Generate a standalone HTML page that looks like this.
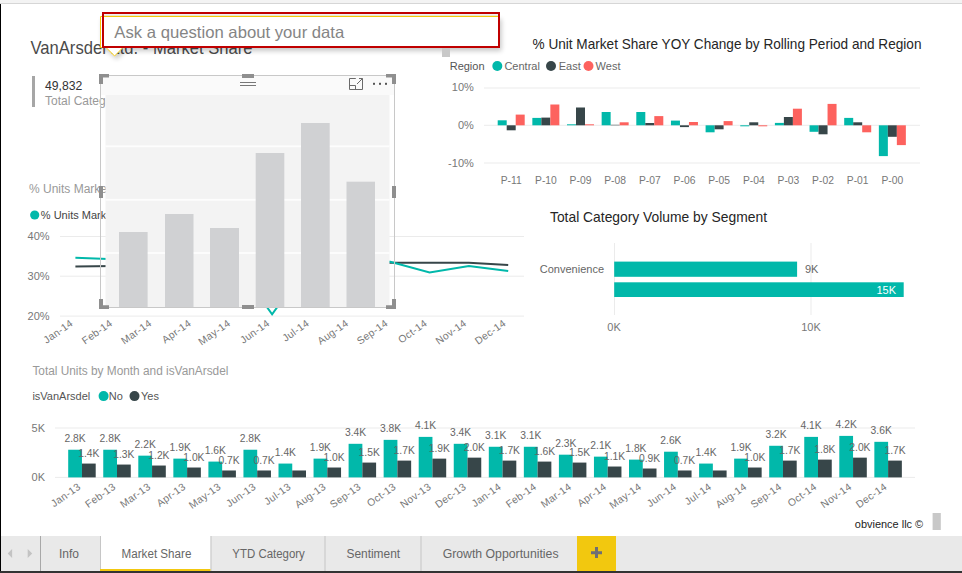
<!DOCTYPE html>
<html><head><meta charset="utf-8"><style>
html,body{margin:0;padding:0;width:962px;height:573px;overflow:hidden;background:#fff;font-family:"Liberation Sans",sans-serif}
</style></head><body>
<svg width="962" height="573" viewBox="0 0 962 573" style="position:absolute;left:0;top:0" font-family="Liberation Sans, sans-serif">
<defs><filter id="sh" x="-10%" y="-30%" width="120%" height="170%"><feGaussianBlur in="SourceAlpha" stdDeviation="2.5"/><feOffset dx="2" dy="3"/><feComponentTransfer><feFuncA type="linear" slope="0.22"/></feComponentTransfer><feMerge><feMergeNode/><feMergeNode in="SourceGraphic"/></feMerge></filter></defs>
<rect x="0" y="0" width="962" height="573" fill="#fff"/>
<rect x="0" y="0" width="962" height="3" fill="#f3f3f3"/>
<rect x="0" y="3" width="962" height="1" fill="#d6d6d6"/>
<rect x="0" y="4" width="1" height="569" fill="#000"/>
<text x="30.5" y="53.8" font-size="17.8" fill="#4a4a4a" text-anchor="start" textLength="222" lengthAdjust="spacingAndGlyphs" >VanArsdel Ltd. - Market Share</text>
<rect x="32" y="76" width="3" height="31" fill="#a6a6a6"/>
<text x="45" y="89.7" font-size="12" fill="#333" text-anchor="start" textLength="37.3" lengthAdjust="spacingAndGlyphs" >49,832</text>
<text x="45" y="104.6" font-size="12" fill="#999" text-anchor="start" >Total Category Volume</text>
<text x="29" y="193" font-size="12" fill="#999" text-anchor="start" >% Units Market Share by Month</text>
<circle cx="34.7" cy="215" r="4.6" fill="#01b8aa"/>
<text x="40.8" y="219.3" font-size="11" fill="#444" text-anchor="start" >% Units Market Share</text>
<text x="49.6" y="239.7" font-size="11" fill="#777" text-anchor="end" >40%</text>
<rect x="60" y="236.0" width="464" height="1" fill="#ebebeb"/>
<text x="49.6" y="279.9" font-size="11" fill="#777" text-anchor="end" >30%</text>
<rect x="60" y="275.7" width="464" height="1" fill="#ebebeb"/>
<text x="49.6" y="319.8" font-size="11" fill="#777" text-anchor="end" >20%</text>
<rect x="60" y="315.6" width="464" height="1" fill="#ebebeb"/>
<polyline fill="none" stroke="#374649" stroke-width="2" points="75.4,266.6 114.8,265.9 154.1,264.5 193.5,263.5 232.8,263 272.1,263 311.5,263 350.9,262.8 390.2,262.7 429.6,262.7 468.9,262.7 508.2,264.9"/>
<polyline fill="none" stroke="#01b8aa" stroke-width="2" points="75.4,257.8 114.8,259.3 154.1,260 193.5,260 232.8,259.5 272.1,314.3 311.5,259.5 350.9,261 390.2,261.8 429.6,272.5 468.9,265.9 508.2,270.9"/>
<text transform="translate(73.8,324.9) rotate(-35)" font-size="10.3" fill="#777" text-anchor="end" letter-spacing="0.3">Jan-14</text>
<text transform="translate(113.2,324.9) rotate(-35)" font-size="10.3" fill="#777" text-anchor="end" letter-spacing="0.3">Feb-14</text>
<text transform="translate(152.5,324.9) rotate(-35)" font-size="10.3" fill="#777" text-anchor="end" letter-spacing="0.3">Mar-14</text>
<text transform="translate(191.9,324.9) rotate(-35)" font-size="10.3" fill="#777" text-anchor="end" letter-spacing="0.3">Apr-14</text>
<text transform="translate(231.2,324.9) rotate(-35)" font-size="10.3" fill="#777" text-anchor="end" letter-spacing="0.3">May-14</text>
<text transform="translate(270.5,324.9) rotate(-35)" font-size="10.3" fill="#777" text-anchor="end" letter-spacing="0.3">Jun-14</text>
<text transform="translate(309.9,324.9) rotate(-35)" font-size="10.3" fill="#777" text-anchor="end" letter-spacing="0.3">Jul-14</text>
<text transform="translate(349.2,324.9) rotate(-35)" font-size="10.3" fill="#777" text-anchor="end" letter-spacing="0.3">Aug-14</text>
<text transform="translate(388.6,324.9) rotate(-35)" font-size="10.3" fill="#777" text-anchor="end" letter-spacing="0.3">Sep-14</text>
<text transform="translate(428.0,324.9) rotate(-35)" font-size="10.3" fill="#777" text-anchor="end" letter-spacing="0.3">Oct-14</text>
<text transform="translate(467.3,324.9) rotate(-35)" font-size="10.3" fill="#777" text-anchor="end" letter-spacing="0.3">Nov-14</text>
<text transform="translate(506.6,324.9) rotate(-35)" font-size="10.3" fill="#777" text-anchor="end" letter-spacing="0.3">Dec-14</text>
<text x="532.5" y="48.6" font-size="14.8" fill="#252525" text-anchor="start" textLength="389" lengthAdjust="spacingAndGlyphs" >% Unit Market Share YOY Change by Rolling Period and Region</text>
<text x="449.7" y="70" font-size="11" fill="#555" text-anchor="start" >Region</text>
<circle cx="497.3" cy="66" r="5" fill="#01b8aa"/>
<text x="504.4" y="70" font-size="11" fill="#666" text-anchor="start" >Central</text>
<circle cx="551" cy="66" r="5" fill="#374649"/>
<text x="558.7" y="70" font-size="11" fill="#666" text-anchor="start" >East</text>
<circle cx="588.5" cy="66" r="5" fill="#fd625e"/>
<text x="595.6" y="70" font-size="11" fill="#666" text-anchor="start" >West</text>
<text x="473.8" y="91.1" font-size="11" fill="#777" text-anchor="end" >10%</text>
<rect x="484" y="87.5" width="436" height="1" fill="#ebebeb"/>
<text x="473.8" y="128.5" font-size="11" fill="#777" text-anchor="end" >0%</text>
<rect x="484" y="124.8" width="436" height="1" fill="#ebebeb"/>
<text x="473.8" y="166.5" font-size="11" fill="#777" text-anchor="end" >-10%</text>
<rect x="484" y="162.5" width="436" height="1" fill="#ebebeb"/>
<rect x="497.70" y="120.30" width="9" height="5.00" fill="#01b8aa"/>
<rect x="506.70" y="125.30" width="9" height="5.00" fill="#374649"/>
<rect x="515.70" y="114.60" width="9" height="10.70" fill="#fd625e"/>
<text x="511.2" y="183.8" font-size="10.3" fill="#777" text-anchor="middle" >P-11</text>
<rect x="532.35" y="117.90" width="9" height="7.40" fill="#01b8aa"/>
<rect x="541.35" y="117.60" width="9" height="7.70" fill="#374649"/>
<rect x="550.35" y="104.50" width="9" height="20.80" fill="#fd625e"/>
<text x="545.9" y="183.8" font-size="10.3" fill="#777" text-anchor="middle" >P-10</text>
<rect x="567.00" y="124.30" width="9" height="1.00" fill="#01b8aa"/>
<rect x="576.00" y="107.50" width="9" height="17.80" fill="#374649"/>
<rect x="585.00" y="124.30" width="9" height="1.00" fill="#fd625e"/>
<text x="580.5" y="183.8" font-size="10.3" fill="#777" text-anchor="middle" >P-09</text>
<rect x="601.65" y="112.00" width="9" height="13.30" fill="#01b8aa"/>
<rect x="610.65" y="124.80" width="9" height="0.50" fill="#374649"/>
<rect x="619.65" y="122.30" width="9" height="3.00" fill="#fd625e"/>
<text x="615.1" y="183.8" font-size="10.3" fill="#777" text-anchor="middle" >P-08</text>
<rect x="636.30" y="112.00" width="9" height="13.30" fill="#01b8aa"/>
<rect x="645.30" y="123.00" width="9" height="2.30" fill="#374649"/>
<rect x="654.30" y="116.10" width="9" height="9.20" fill="#fd625e"/>
<text x="649.8" y="183.8" font-size="10.3" fill="#777" text-anchor="middle" >P-07</text>
<rect x="670.95" y="120.60" width="9" height="4.70" fill="#01b8aa"/>
<rect x="679.95" y="125.30" width="9" height="1.80" fill="#374649"/>
<rect x="688.95" y="122.00" width="9" height="3.30" fill="#fd625e"/>
<text x="684.5" y="183.8" font-size="10.3" fill="#777" text-anchor="middle" >P-06</text>
<rect x="705.60" y="125.30" width="9" height="7.00" fill="#01b8aa"/>
<rect x="714.60" y="125.30" width="9" height="4.00" fill="#374649"/>
<rect x="723.60" y="121.10" width="9" height="4.20" fill="#fd625e"/>
<text x="719.1" y="183.8" font-size="10.3" fill="#777" text-anchor="middle" >P-05</text>
<rect x="740.25" y="125.30" width="9" height="1.00" fill="#01b8aa"/>
<rect x="749.25" y="122.30" width="9" height="3.00" fill="#374649"/>
<rect x="758.25" y="125.30" width="9" height="1.00" fill="#fd625e"/>
<text x="753.8" y="183.8" font-size="10.3" fill="#777" text-anchor="middle" >P-04</text>
<rect x="774.90" y="122.90" width="9" height="2.40" fill="#01b8aa"/>
<rect x="783.90" y="117.00" width="9" height="8.30" fill="#374649"/>
<rect x="792.90" y="108.70" width="9" height="16.60" fill="#fd625e"/>
<text x="788.4" y="183.8" font-size="10.3" fill="#777" text-anchor="middle" >P-03</text>
<rect x="809.55" y="125.30" width="9" height="6.50" fill="#01b8aa"/>
<rect x="818.55" y="125.30" width="9" height="9.00" fill="#374649"/>
<rect x="827.55" y="103.90" width="9" height="21.40" fill="#fd625e"/>
<text x="823.0" y="183.8" font-size="10.3" fill="#777" text-anchor="middle" >P-02</text>
<rect x="844.20" y="117.90" width="9" height="7.40" fill="#01b8aa"/>
<rect x="853.20" y="122.30" width="9" height="3.00" fill="#374649"/>
<rect x="862.20" y="125.30" width="9" height="7.00" fill="#fd625e"/>
<text x="857.7" y="183.8" font-size="10.3" fill="#777" text-anchor="middle" >P-01</text>
<rect x="878.85" y="125.30" width="9" height="30.80" fill="#01b8aa"/>
<rect x="887.85" y="125.30" width="9" height="11.50" fill="#374649"/>
<rect x="896.85" y="125.30" width="9" height="19.80" fill="#fd625e"/>
<text x="892.3" y="183.8" font-size="10.3" fill="#777" text-anchor="middle" >P-00</text>
<text x="550" y="221.7" font-size="14.8" fill="#252525" text-anchor="start" textLength="217" lengthAdjust="spacingAndGlyphs" >Total Category Volume by Segment</text>
<text x="604" y="273" font-size="11" fill="#666" text-anchor="end" >Convenience</text>
<rect x="614" y="243" width="1" height="72" fill="#ebebeb"/>
<rect x="810.5" y="243" width="1" height="72" fill="#ebebeb"/>
<rect x="614.2" y="261.6" width="182.9" height="15.2" fill="#01b8aa"/>
<rect x="614.2" y="282.3" width="289.5" height="14.7" fill="#01b8aa"/>
<text x="805" y="273" font-size="11" fill="#666" text-anchor="start" >9K</text>
<text x="896" y="293.5" font-size="11" fill="#fff" text-anchor="end" >15K</text>
<text x="614" y="330.8" font-size="11" fill="#777" text-anchor="middle" >0K</text>
<text x="811" y="330.8" font-size="11" fill="#777" text-anchor="middle" >10K</text>
<text x="32.4" y="375" font-size="12" fill="#999" text-anchor="start" textLength="196" lengthAdjust="spacingAndGlyphs" >Total Units by Month and isVanArsdel</text>
<text x="32.4" y="400" font-size="11" fill="#555" text-anchor="start" >isVanArsdel</text>
<circle cx="103.6" cy="396.1" r="5" fill="#01b8aa"/>
<text x="108.8" y="400" font-size="11" fill="#555" text-anchor="start" >No</text>
<circle cx="134.5" cy="396.1" r="5" fill="#374649"/>
<text x="141" y="400" font-size="11" fill="#555" text-anchor="start" >Yes</text>
<text x="45" y="432" font-size="11" fill="#777" text-anchor="end" >5K</text>
<text x="45" y="481" font-size="11" fill="#777" text-anchor="end" >0K</text>
<rect x="55" y="427.5" width="860" height="1" fill="#ebebeb"/>
<rect x="55" y="476.9" width="860" height="1" fill="#ebebeb"/>
<rect x="68.20" y="449.74" width="13.75" height="27.66" fill="#01b8aa"/>
<rect x="81.95" y="463.57" width="13.75" height="13.83" fill="#374649"/>
<text x="75.1" y="441.7" font-size="10.3" fill="#666" text-anchor="middle" >2.8K</text>
<text x="88.8" y="456.6" font-size="10.3" fill="#666" text-anchor="middle" >1.4K</text>
<text transform="translate(81.4,488.4) rotate(-35)" font-size="10.3" fill="#777" text-anchor="end" letter-spacing="0.3">Jan-13</text>
<rect x="103.25" y="449.74" width="13.75" height="27.66" fill="#01b8aa"/>
<rect x="117.00" y="464.56" width="13.75" height="12.84" fill="#374649"/>
<text x="110.2" y="441.7" font-size="10.3" fill="#666" text-anchor="middle" >2.8K</text>
<text x="123.8" y="457.6" font-size="10.3" fill="#666" text-anchor="middle" >1.3K</text>
<text transform="translate(116.5,488.4) rotate(-35)" font-size="10.3" fill="#777" text-anchor="end" letter-spacing="0.3">Feb-13</text>
<rect x="138.30" y="455.66" width="13.75" height="21.74" fill="#01b8aa"/>
<rect x="152.05" y="465.54" width="13.75" height="11.86" fill="#374649"/>
<text x="145.2" y="447.7" font-size="10.3" fill="#666" text-anchor="middle" >2.2K</text>
<text x="158.9" y="458.5" font-size="10.3" fill="#666" text-anchor="middle" >1.2K</text>
<text transform="translate(151.5,488.4) rotate(-35)" font-size="10.3" fill="#777" text-anchor="end" letter-spacing="0.3">Mar-13</text>
<rect x="173.35" y="458.63" width="13.75" height="18.77" fill="#01b8aa"/>
<rect x="187.10" y="467.52" width="13.75" height="9.88" fill="#374649"/>
<text x="180.2" y="450.6" font-size="10.3" fill="#666" text-anchor="middle" >1.9K</text>
<text x="193.9" y="460.5" font-size="10.3" fill="#666" text-anchor="middle" >1.0K</text>
<text transform="translate(186.5,488.4) rotate(-35)" font-size="10.3" fill="#777" text-anchor="end" letter-spacing="0.3">Apr-13</text>
<rect x="208.40" y="461.59" width="13.75" height="15.81" fill="#01b8aa"/>
<rect x="222.15" y="470.48" width="13.75" height="6.92" fill="#374649"/>
<text x="215.3" y="453.6" font-size="10.3" fill="#666" text-anchor="middle" >1.6K</text>
<text x="229.0" y="463.5" font-size="10.3" fill="#666" text-anchor="middle" >0.7K</text>
<text transform="translate(221.6,488.4) rotate(-35)" font-size="10.3" fill="#777" text-anchor="end" letter-spacing="0.3">May-13</text>
<rect x="243.45" y="449.74" width="13.75" height="27.66" fill="#01b8aa"/>
<rect x="257.20" y="470.48" width="13.75" height="6.92" fill="#374649"/>
<text x="250.3" y="441.7" font-size="10.3" fill="#666" text-anchor="middle" >2.8K</text>
<text x="264.1" y="463.5" font-size="10.3" fill="#666" text-anchor="middle" >0.7K</text>
<text transform="translate(256.6,488.4) rotate(-35)" font-size="10.3" fill="#777" text-anchor="end" letter-spacing="0.3">Jun-13</text>
<rect x="278.50" y="463.57" width="13.75" height="13.83" fill="#01b8aa"/>
<rect x="292.25" y="470.48" width="13.75" height="6.92" fill="#374649"/>
<text x="285.4" y="455.6" font-size="10.3" fill="#666" text-anchor="middle" >1.4K</text>
<text transform="translate(291.7,488.4) rotate(-35)" font-size="10.3" fill="#777" text-anchor="end" letter-spacing="0.3">Jul-13</text>
<rect x="313.55" y="458.63" width="13.75" height="18.77" fill="#01b8aa"/>
<rect x="327.30" y="467.52" width="13.75" height="9.88" fill="#374649"/>
<text x="320.4" y="450.6" font-size="10.3" fill="#666" text-anchor="middle" >1.9K</text>
<text x="334.1" y="460.5" font-size="10.3" fill="#666" text-anchor="middle" >1.0K</text>
<text transform="translate(326.7,488.4) rotate(-35)" font-size="10.3" fill="#777" text-anchor="end" letter-spacing="0.3">Aug-13</text>
<rect x="348.60" y="443.81" width="13.75" height="33.59" fill="#01b8aa"/>
<rect x="362.35" y="462.58" width="13.75" height="14.82" fill="#374649"/>
<text x="355.5" y="435.8" font-size="10.3" fill="#666" text-anchor="middle" >3.4K</text>
<text x="369.2" y="455.6" font-size="10.3" fill="#666" text-anchor="middle" >1.5K</text>
<text transform="translate(361.8,488.4) rotate(-35)" font-size="10.3" fill="#777" text-anchor="end" letter-spacing="0.3">Sep-13</text>
<rect x="383.65" y="439.86" width="13.75" height="37.54" fill="#01b8aa"/>
<rect x="397.40" y="460.60" width="13.75" height="16.80" fill="#374649"/>
<text x="390.5" y="431.9" font-size="10.3" fill="#666" text-anchor="middle" >3.8K</text>
<text x="404.2" y="453.6" font-size="10.3" fill="#666" text-anchor="middle" >1.7K</text>
<text transform="translate(396.8,488.4) rotate(-35)" font-size="10.3" fill="#777" text-anchor="end" letter-spacing="0.3">Oct-13</text>
<rect x="418.70" y="436.89" width="13.75" height="40.51" fill="#01b8aa"/>
<rect x="432.45" y="458.63" width="13.75" height="18.77" fill="#374649"/>
<text x="425.6" y="428.9" font-size="10.3" fill="#666" text-anchor="middle" >4.1K</text>
<text x="439.3" y="451.6" font-size="10.3" fill="#666" text-anchor="middle" >1.9K</text>
<text transform="translate(431.9,488.4) rotate(-35)" font-size="10.3" fill="#777" text-anchor="end" letter-spacing="0.3">Nov-13</text>
<rect x="453.75" y="443.81" width="13.75" height="33.59" fill="#01b8aa"/>
<rect x="467.50" y="457.64" width="13.75" height="19.76" fill="#374649"/>
<text x="460.6" y="435.8" font-size="10.3" fill="#666" text-anchor="middle" >3.4K</text>
<text x="474.3" y="450.6" font-size="10.3" fill="#666" text-anchor="middle" >2.0K</text>
<text transform="translate(466.9,488.4) rotate(-35)" font-size="10.3" fill="#777" text-anchor="end" letter-spacing="0.3">Dec-13</text>
<rect x="488.80" y="446.77" width="13.75" height="30.63" fill="#01b8aa"/>
<rect x="502.55" y="460.60" width="13.75" height="16.80" fill="#374649"/>
<text x="495.7" y="438.8" font-size="10.3" fill="#666" text-anchor="middle" >3.1K</text>
<text x="509.4" y="453.6" font-size="10.3" fill="#666" text-anchor="middle" >1.7K</text>
<text transform="translate(502.0,488.4) rotate(-35)" font-size="10.3" fill="#777" text-anchor="end" letter-spacing="0.3">Jan-14</text>
<rect x="523.85" y="446.77" width="13.75" height="30.63" fill="#01b8aa"/>
<rect x="537.60" y="461.59" width="13.75" height="15.81" fill="#374649"/>
<text x="530.8" y="438.8" font-size="10.3" fill="#666" text-anchor="middle" >3.1K</text>
<text x="544.5" y="454.6" font-size="10.3" fill="#666" text-anchor="middle" >1.6K</text>
<text transform="translate(537.1,488.4) rotate(-35)" font-size="10.3" fill="#777" text-anchor="end" letter-spacing="0.3">Feb-14</text>
<rect x="558.90" y="454.68" width="13.75" height="22.72" fill="#01b8aa"/>
<rect x="572.65" y="462.58" width="13.75" height="14.82" fill="#374649"/>
<text x="565.8" y="446.7" font-size="10.3" fill="#666" text-anchor="middle" >2.3K</text>
<text x="579.5" y="455.6" font-size="10.3" fill="#666" text-anchor="middle" >1.5K</text>
<text transform="translate(572.1,488.4) rotate(-35)" font-size="10.3" fill="#777" text-anchor="end" letter-spacing="0.3">Mar-14</text>
<rect x="593.95" y="456.65" width="13.75" height="20.75" fill="#01b8aa"/>
<rect x="607.70" y="466.53" width="13.75" height="10.87" fill="#374649"/>
<text x="600.9" y="448.7" font-size="10.3" fill="#666" text-anchor="middle" >2.1K</text>
<text x="614.6" y="459.5" font-size="10.3" fill="#666" text-anchor="middle" >1.1K</text>
<text transform="translate(607.2,488.4) rotate(-35)" font-size="10.3" fill="#777" text-anchor="end" letter-spacing="0.3">Apr-14</text>
<rect x="629.00" y="459.62" width="13.75" height="17.78" fill="#01b8aa"/>
<rect x="642.75" y="468.51" width="13.75" height="8.89" fill="#374649"/>
<text x="635.9" y="451.6" font-size="10.3" fill="#666" text-anchor="middle" >1.8K</text>
<text x="649.6" y="461.5" font-size="10.3" fill="#666" text-anchor="middle" >0.9K</text>
<text transform="translate(642.2,488.4) rotate(-35)" font-size="10.3" fill="#777" text-anchor="end" letter-spacing="0.3">May-14</text>
<rect x="664.05" y="451.71" width="13.75" height="25.69" fill="#01b8aa"/>
<rect x="677.80" y="470.48" width="13.75" height="6.92" fill="#374649"/>
<text x="670.9" y="443.7" font-size="10.3" fill="#666" text-anchor="middle" >2.6K</text>
<text x="684.6" y="463.5" font-size="10.3" fill="#666" text-anchor="middle" >0.7K</text>
<text transform="translate(677.2,488.4) rotate(-35)" font-size="10.3" fill="#777" text-anchor="end" letter-spacing="0.3">Jun-14</text>
<rect x="699.10" y="463.57" width="13.75" height="13.83" fill="#01b8aa"/>
<rect x="712.85" y="470.48" width="13.75" height="6.92" fill="#374649"/>
<text x="706.0" y="455.6" font-size="10.3" fill="#666" text-anchor="middle" >1.4K</text>
<text transform="translate(712.3,488.4) rotate(-35)" font-size="10.3" fill="#777" text-anchor="end" letter-spacing="0.3">Jul-14</text>
<rect x="734.15" y="458.63" width="13.75" height="18.77" fill="#01b8aa"/>
<rect x="747.90" y="467.52" width="13.75" height="9.88" fill="#374649"/>
<text x="741.0" y="450.6" font-size="10.3" fill="#666" text-anchor="middle" >1.9K</text>
<text x="754.8" y="460.5" font-size="10.3" fill="#666" text-anchor="middle" >1.0K</text>
<text transform="translate(747.4,488.4) rotate(-35)" font-size="10.3" fill="#777" text-anchor="end" letter-spacing="0.3">Aug-14</text>
<rect x="769.20" y="445.78" width="13.75" height="31.62" fill="#01b8aa"/>
<rect x="782.95" y="460.60" width="13.75" height="16.80" fill="#374649"/>
<text x="776.1" y="437.8" font-size="10.3" fill="#666" text-anchor="middle" >3.2K</text>
<text x="789.8" y="453.6" font-size="10.3" fill="#666" text-anchor="middle" >1.7K</text>
<text transform="translate(782.4,488.4) rotate(-35)" font-size="10.3" fill="#777" text-anchor="end" letter-spacing="0.3">Sep-14</text>
<rect x="804.25" y="436.89" width="13.75" height="40.51" fill="#01b8aa"/>
<rect x="818.00" y="459.62" width="13.75" height="17.78" fill="#374649"/>
<text x="811.1" y="428.9" font-size="10.3" fill="#666" text-anchor="middle" >4.1K</text>
<text x="824.9" y="452.6" font-size="10.3" fill="#666" text-anchor="middle" >1.8K</text>
<text transform="translate(817.5,488.4) rotate(-35)" font-size="10.3" fill="#777" text-anchor="end" letter-spacing="0.3">Oct-14</text>
<rect x="839.30" y="435.90" width="13.75" height="41.50" fill="#01b8aa"/>
<rect x="853.05" y="457.64" width="13.75" height="19.76" fill="#374649"/>
<text x="846.2" y="427.9" font-size="10.3" fill="#666" text-anchor="middle" >4.2K</text>
<text x="859.9" y="450.6" font-size="10.3" fill="#666" text-anchor="middle" >2.0K</text>
<text transform="translate(852.5,488.4) rotate(-35)" font-size="10.3" fill="#777" text-anchor="end" letter-spacing="0.3">Nov-14</text>
<rect x="874.35" y="441.83" width="13.75" height="35.57" fill="#01b8aa"/>
<rect x="888.10" y="460.60" width="13.75" height="16.80" fill="#374649"/>
<text x="881.2" y="433.8" font-size="10.3" fill="#666" text-anchor="middle" >3.6K</text>
<text x="895.0" y="453.6" font-size="10.3" fill="#666" text-anchor="middle" >1.7K</text>
<text transform="translate(887.6,488.4) rotate(-35)" font-size="10.3" fill="#777" text-anchor="end" letter-spacing="0.3">Dec-14</text>
<text x="854.8" y="527.5" font-size="11.3" fill="#222" text-anchor="start" textLength="68.4" lengthAdjust="spacingAndGlyphs" >obvience llc &#169;</text>
<rect x="932.6" y="513" width="8.2" height="17" fill="#c8c8c8"/>
<rect x="1" y="536" width="961" height="35" fill="#e9e9e9"/>
<rect x="100" y="536" width="110.5" height="35" fill="#fff"/>
<rect x="100" y="536" width="1" height="35" fill="#c6c6c6"/>
<rect x="210.5" y="536" width="1" height="35" fill="#c6c6c6"/>
<rect x="324.5" y="536" width="1" height="35" fill="#c6c6c6"/>
<rect x="420.5" y="536" width="1" height="35" fill="#c6c6c6"/>
<rect x="40" y="536" width="1" height="35" fill="#a8a8a8"/>
<rect x="100" y="569" width="110.5" height="2" fill="#f2c80f"/>
<rect x="577" y="536" width="39" height="35" fill="#f2c80f"/>
<path d="M591 551.2 h11 v3 h-11 z M595 547 h3 v11 h-3 z" fill="#6e6e76"/>
<path d="M12.1 549 L7.7 553.5 L12.1 558 Z" fill="#c3c3c3"/>
<path d="M27.7 549 L32.2 553.5 L27.7 558 Z" fill="#c3c3c3"/>
<text x="68.9" y="558" font-size="12" fill="#666" text-anchor="middle" >Info</text>
<text x="156.5" y="557.8" font-size="12" fill="#666" text-anchor="middle" textLength="69.8" lengthAdjust="spacingAndGlyphs" >Market Share</text>
<text x="268.6" y="557.8" font-size="12" fill="#666" text-anchor="middle" textLength="72.5" lengthAdjust="spacingAndGlyphs" >YTD Category</text>
<text x="373.3" y="557.8" font-size="12" fill="#666" text-anchor="middle" textLength="53.7" lengthAdjust="spacingAndGlyphs" >Sentiment</text>
<text x="500.6" y="557.8" font-size="12" fill="#666" text-anchor="middle" textLength="115.9" lengthAdjust="spacingAndGlyphs" >Growth Opportunities</text>
<rect x="0" y="571" width="962" height="2" fill="#333"/>
<rect x="101" y="76" width="293" height="19" fill="#fafafa"/>
<rect x="105.5" y="95" width="284" height="212" fill="#f3f3f3"/>
<rect x="100.5" y="75.5" width="294" height="232" fill="none" stroke="#c8c8c8" stroke-width="1"/>
<rect x="105.5" y="145.4" width="284" height="1.8" fill="#fdfdfd"/>
<rect x="105.5" y="198.9" width="284" height="1.8" fill="#fdfdfd"/>
<rect x="105.5" y="252.1" width="284" height="1.8" fill="#fdfdfd"/>
<rect x="119" y="232" width="28.6" height="75.0" fill="#d0d1d3"/>
<rect x="165" y="214" width="28.5" height="93.0" fill="#d0d1d3"/>
<rect x="210" y="228" width="29.0" height="79.0" fill="#d0d1d3"/>
<rect x="255.7" y="153" width="28.6" height="154.0" fill="#d0d1d3"/>
<rect x="301" y="123" width="28.7" height="184.0" fill="#d0d1d3"/>
<rect x="346.5" y="181.7" width="28.5" height="125.3" fill="#d0d1d3"/>
<path d="M99 74 h10 v3.5 h-6 v6.5 h-4 z" fill="#8f8f8f"/>
<path d="M396 74 h-10 v3.5 h6 v6.5 h4 z" fill="#8f8f8f"/>
<path d="M99 309 h10 v-3.7 h-6 v-6.3 h-4 z" fill="#8f8f8f"/>
<path d="M396 309 h-10 v-3.7 h6 v-6.3 h4 z" fill="#8f8f8f"/>
<rect x="242" y="74" width="12" height="4" fill="#8f8f8f"/>
<rect x="242" y="305" width="12" height="4" fill="#8f8f8f"/>
<rect x="99" y="186" width="4" height="12" fill="#8f8f8f"/>
<rect x="392" y="186" width="4" height="12" fill="#8f8f8f"/>
<rect x="240" y="82" width="16" height="1" fill="#777"/>
<rect x="240" y="85" width="16" height="1" fill="#777"/>
<path d="M349.5 89.5 V78.5 H355.8 M349.5 89.5 H362.5 V78.5 H359 M349.5 85.5 H355.5 V89.5 M357 84 L362.5 78.5" fill="none" stroke="#6a6a6a" stroke-width="1"/>
<rect x="373" y="82.8" width="2" height="2" fill="#555"/>
<rect x="379" y="82.8" width="2" height="2" fill="#555"/>
<rect x="385" y="82.8" width="2" height="2" fill="#555"/>
<g filter="url(#sh)">
<path d="M100.5 16.5 H499 V47.5 H123 L114.6 56 L106 47.5 H100.5 Z" fill="#fff" stroke="#f2c80f" stroke-width="1"/>
</g>
<rect x="103" y="13" width="396" height="34" fill="none" stroke="#c00000" stroke-width="2"/>
<rect x="104" y="14.5" width="394" height="1" fill="#dce8f0"/>
<rect x="104" y="15.8" width="394" height="1" fill="#f2c80f"/>
<text x="114.3" y="37.6" font-size="16.5" fill="#858585" text-anchor="start" textLength="230" lengthAdjust="spacingAndGlyphs" >Ask a question about your data</text>
<rect x="442" y="48" width="8" height="9" fill="#c8c8c8"/>
</svg>
</body></html>
